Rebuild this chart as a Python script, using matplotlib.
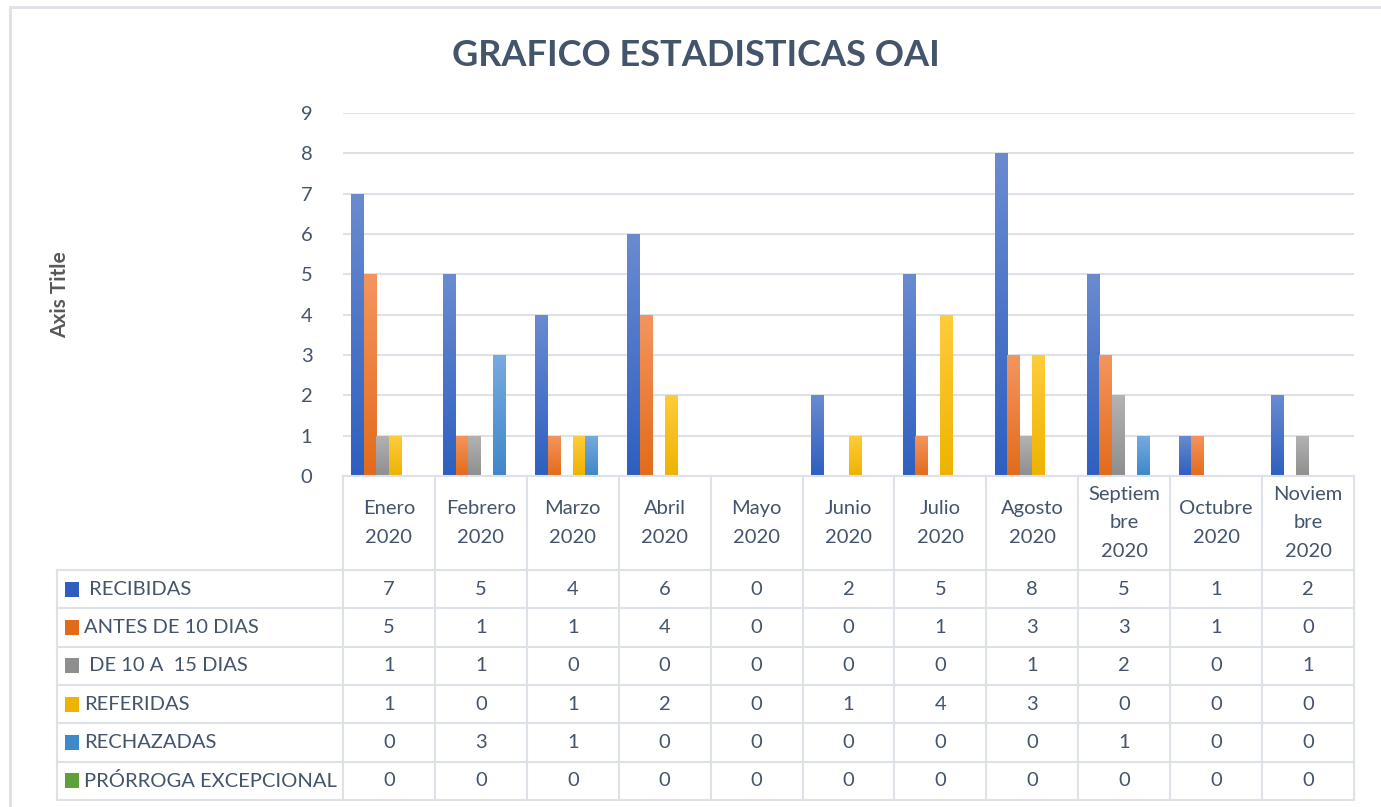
import numpy as np
import matplotlib
matplotlib.use("Agg")
import matplotlib.pyplot as plt
from matplotlib.patches import Rectangle
from matplotlib.colors import LinearSegmentedColormap

plt.rcParams['font.family'] = ['Lato', 'DejaVu Sans']

meses = ["Enero\n2020", "Febrero\n2020", "Marzo\n2020", "Abril\n2020", "Mayo\n2020",
         "Junio\n2020", "Julio\n2020", "Agosto\n2020", "Septiem\nbre\n2020",
         "Octubre\n2020", "Noviem\nbre\n2020"]
series = [" RECIBIDAS", "ANTES DE 10 DIAS", " DE 10 A  15 DIAS", "REFERIDAS",
          "RECHAZADAS", "PRÓRROGA EXCEPCIONAL"]
recibidas = [7, 5, 4, 6, 0, 2, 5, 8, 5, 1, 2]
antes_10 = [5, 1, 1, 4, 0, 0, 1, 3, 3, 1, 0]
de_10_15 = [1, 1, 0, 0, 0, 0, 0, 1, 2, 0, 1]
referidas = [1, 0, 1, 2, 0, 1, 4, 3, 0, 0, 0]
rechazadas = [0, 3, 1, 0, 0, 0, 0, 0, 1, 0, 0]
prorroga = [0, 0, 0, 0, 0, 0, 0, 0, 0, 0, 0]
valores = [recibidas, antes_10, de_10_15, referidas, rechazadas, prorroga]

# (top, bottom) gradient colours
colores = [("#6a8bd0", "#2e5fc0"), ("#f4955e", "#e26b1a"), ("#b3b3b3", "#8e8e8e"),
           ("#ffcc3c", "#eeb300"), ("#78aadf", "#3f88c9"), ("#86c060", "#5fa03a")]

texto = "#44546a"
linea = "#dde1e8"
fs = 14.5

W, H = 1381, 807
fig = plt.figure(figsize=(W / 100, H / 100), dpi=100)

def px_axes(x0, y0, x1, y1):
    return fig.add_axes([x0 / W, 1 - y1 / H, (x1 - x0) / W, (y1 - y0) / H])

# outer border
fig.patches.append(Rectangle((10 / W, -0.1), 1.2, 1 - 7 / H + 0.1, transform=fig.transFigure,
                             fill=False, ec=linea, lw=2))

x_left, x_right = 343, 1354
ax = px_axes(x_left, 113, x_right, 476)
n = len(meses)
x = np.arange(n)
bw = 0.136
grad = np.linspace(1, 0, 256).reshape(-1, 1)
for i, vals in enumerate(valores):
    cmap = LinearSegmentedColormap.from_list("c%d" % i, [colores[i][1], colores[i][0]])
    bars = ax.bar(x + (i - 2.5) * bw, vals, bw, color=colores[i][1], zorder=2, lw=0)
    for b in bars:
        if b.get_height() <= 0:
            continue
        bx, by = b.get_x(), b.get_y()
        im = ax.imshow(grad, cmap=cmap, aspect="auto", zorder=3,
                       extent=[bx, bx + b.get_width(), by, by + b.get_height()])
        im.set_clip_path(b)
ax.set_xlim(-0.5, n - 0.5)
ax.set_ylim(0, 9)
ax.set_yticks(range(10))
ax.yaxis.grid(True, color=linea, lw=1.5, zorder=0)
ax.set_axisbelow(True)
for s in ax.spines.values():
    s.set_visible(False)
ax.set_xticks([])
ax.tick_params(axis="y", length=0, pad=22, labelsize=fs, labelcolor=texto)
ax.set_aspect("auto")

# data table
tax = px_axes(57, 476, x_right, 802)
left_units = (x_left - 57) / ((x_right - x_left) / n)
tax.set_xlim(-0.5 - left_units, n - 0.5)
tax.set_ylim(326, 0)
tax.axis("off")
hdr = 94
rh = 38.3
for k in range(n + 1):
    tax.plot([k - 0.5, k - 0.5], [0, hdr + 6 * rh], color=linea, lw=1.5, clip_on=False)
tax.plot([-0.5 - left_units, -0.5 - left_units], [hdr, hdr + 6 * rh], color=linea, lw=1.5,
         clip_on=False)
for r in range(7):
    yy = hdr + r * rh
    tax.plot([-0.5 - left_units, n - 0.5], [yy, yy], color=linea, lw=1.5, clip_on=False)
tax.plot([-0.5, n - 0.5], [0, 0], color=linea, lw=1.5, clip_on=False)
for k, m in enumerate(meses):
    tax.text(k, hdr / 2, m, ha="center", va="center", fontsize=fs, color=texto,
             linespacing=1.8)
for r, (nombre, vals) in enumerate(zip(series, valores)):
    yc = hdr + (r + 0.5) * rh
    x0 = -0.5 - left_units
    tax.add_patch(Rectangle((x0 + 0.09, yc - 7.5), 0.15, 15, color=colores[r][1], lw=0))
    tax.text(x0 + 0.29, yc, nombre, ha="left", va="center", fontsize=fs, color=texto)
    for k, v in enumerate(vals):
        tax.text(k, yc, str(v), ha="center", va="center", fontsize=fs, color=texto)

fig.text(696 / W, 1 - 56 / H, "GRAFICO ESTADISTICAS OAI", ha="center", va="center",
         fontsize=26, fontweight="bold", color=texto)
fig.text(60 / W, 1 - 295 / H, "Axis Title", ha="center", va="center", rotation=90,
         fontsize=15, fontweight="bold", color="#595959")

fig.savefig("out.png", dpi=100)
